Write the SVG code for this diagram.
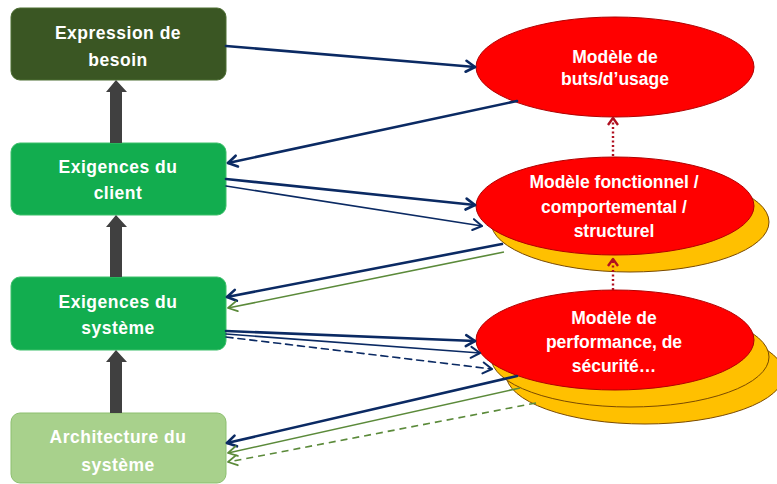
<svg xmlns="http://www.w3.org/2000/svg" width="777" height="484" viewBox="0 0 777 484">
  <style>
    .box-text { font-family: "Liberation Sans", Arial, sans-serif; font-weight: bold; font-size: 17.5px; letter-spacing: 0.5px; fill: #ffffff; text-anchor: middle; }
    .ell-text { font-family: "Liberation Sans", Arial, sans-serif; font-weight: bold; font-size: 17.5px; fill: #ffffff; text-anchor: middle; }
    .red { fill: #ff0000; stroke: #b00000; stroke-width: 1; }
    .shadow { fill: #ffc000; stroke: #7a4a00; stroke-width: 1; }
    .navy { stroke: #0b2a63; fill: none; stroke-linecap: round; }
    .thick { stroke-width: 2.6; }
    .thin { stroke-width: 1.6; }
    .green { stroke: #5b8a3a; fill: none; stroke-width: 1.6; }
    .dash { stroke-dasharray: 7 5; }
    .dotted { stroke: #b01020; stroke-width: 2.4; stroke-dasharray: 2 2.5; fill: none; }
    .up { fill: #404040; }
  </style>
  <defs>
    <marker id="headNavy" markerUnits="userSpaceOnUse" markerWidth="16" markerHeight="16" refX="12" refY="8" orient="auto">
      <path d="M3,2.5 L12,8 L3,13.5" fill="none" stroke="#0b2a63" stroke-width="2.6" stroke-linecap="round" stroke-linejoin="round"/>
    </marker>
    <marker id="headNavyThin" markerUnits="userSpaceOnUse" markerWidth="16" markerHeight="16" refX="12" refY="8" orient="auto">
      <path d="M3,2.5 L12,8 L3,13.5" fill="none" stroke="#0b2a63" stroke-width="2" stroke-linecap="round" stroke-linejoin="round"/>
    </marker>
    <marker id="headGreen" markerUnits="userSpaceOnUse" markerWidth="16" markerHeight="16" refX="12" refY="8" orient="auto">
      <path d="M3,3 L12,8 L3,13" fill="none" stroke="#5b8a3a" stroke-width="1.8" stroke-linecap="round" stroke-linejoin="round"/>
    </marker>
    <marker id="headRed" markerUnits="userSpaceOnUse" markerWidth="14" markerHeight="14" refX="10" refY="7" orient="auto">
      <path d="M3,2 L10,7 L3,12" fill="none" stroke="#b01020" stroke-width="2.4" stroke-linejoin="round"/>
    </marker>
  </defs>

  <rect width="777" height="484" fill="#ffffff"/>

  <!-- stacked requirement boxes -->
  <g id="expression">
    <rect x="11" y="8" width="215" height="72" rx="9" fill="#3a5623" stroke="#4d6e33" stroke-width="1"/>
    <text class="box-text" x="118" y="39">Expression de</text>
    <text class="box-text" x="118" y="66">besoin</text>
  </g>
  <g id="client">
    <rect x="11" y="143" width="215" height="72" rx="9" fill="#12ad4f" stroke="#3cc06a" stroke-width="1"/>
    <text class="box-text" x="118" y="173">Exigences du</text>
    <text class="box-text" x="118" y="199">client</text>
  </g>
  <g id="systeme">
    <rect x="11" y="277" width="215" height="73" rx="9" fill="#12ad4f" stroke="#3cc06a" stroke-width="1"/>
    <text class="box-text" x="118" y="308">Exigences du</text>
    <text class="box-text" x="118" y="334">système</text>
  </g>
  <g id="architecture">
    <rect x="11" y="413" width="215" height="70" rx="9" fill="#a8d18c" stroke="#8cbf6f" stroke-width="1"/>
    <text class="box-text" x="118" y="443">Architecture du</text>
    <text class="box-text" x="118" y="471">système</text>
  </g>

  <!-- models -->
  <g id="usage">
    <ellipse class="red" cx="615" cy="67" rx="139" ry="50"/>
    <text class="ell-text" x="615" y="63">Modèle de</text>
    <text class="ell-text" x="615" y="85">buts/d’usage</text>
  </g>
  <g id="fonctionnel">
    <ellipse class="shadow" cx="630" cy="222" rx="139" ry="50"/>
    <ellipse class="red" cx="615" cy="206" rx="139" ry="49"/>
    <text class="ell-text" x="614" y="188">Modèle fonctionnel /</text>
    <text class="ell-text" x="614" y="213">comportemental  /</text>
    <text class="ell-text" x="614" y="237">structurel</text>
  </g>
  <g id="performance">
    <ellipse class="shadow" cx="645" cy="374" rx="139" ry="50"/>
    <ellipse class="shadow" cx="630" cy="357" rx="139" ry="50"/>
    <ellipse class="red" cx="615" cy="340" rx="139" ry="50"/>
    <text class="ell-text" x="614" y="324">Modèle de</text>
    <text class="ell-text" x="614" y="348">performance, de</text>
    <text class="ell-text" x="614" y="372">sécurité…</text>
  </g>

  <g id="connectors">
    <!-- upward refinement arrows -->
    <path class="up" d="M110,143 L110,92 L106,92 L116,80 L127,92 L122,92 L122,143 Z"/>
    <path class="up" d="M110,277 L110,227 L106,227 L116,215 L127,227 L122,227 L122,277 Z"/>
    <path class="up" d="M110,413 L110,362 L106,362 L116,350 L127,362 L122,362 L122,413 Z"/>

    <!-- between models -->
    <line class="dotted" x1="613" y1="156" x2="613" y2="118" marker-end="url(#headRed)"/>
    <line class="dotted" x1="613" y1="290" x2="613" y2="259" marker-end="url(#headRed)"/>

    <!-- besoin / usage -->
    <line class="navy thick" x1="226" y1="46" x2="475" y2="67" marker-end="url(#headNavy)"/>
    <line class="navy thick" x1="517" y1="101" x2="228" y2="163" marker-end="url(#headNavy)"/>

    <!-- client / fonctionnel -->
    <line class="navy thick" x1="226" y1="179" x2="475" y2="205" marker-end="url(#headNavy)"/>
    <line class="navy thin" x1="226" y1="186" x2="482" y2="226" marker-end="url(#headNavyThin)"/>
    <line class="navy thick" x1="502" y1="244" x2="227" y2="297" marker-end="url(#headNavy)"/>
    <line class="green" x1="504" y1="252" x2="228" y2="308" marker-end="url(#headGreen)"/>

    <!-- systeme / performance -->
    <line class="navy thick" x1="226" y1="331" x2="475" y2="341" marker-end="url(#headNavy)"/>
    <line class="navy thin" x1="226" y1="334" x2="480" y2="353" marker-end="url(#headNavyThin)"/>
    <line class="navy thin dash" x1="226" y1="337" x2="492" y2="369" marker-end="url(#headNavyThin)"/>
    <line class="navy thick" x1="517" y1="376" x2="227" y2="443" marker-end="url(#headNavy)"/>
    <line class="green" x1="520" y1="388" x2="228" y2="453" marker-end="url(#headGreen)"/>
    <line class="green dash" x1="536" y1="403" x2="228" y2="462" marker-end="url(#headGreen)"/>
  </g>
</svg>
